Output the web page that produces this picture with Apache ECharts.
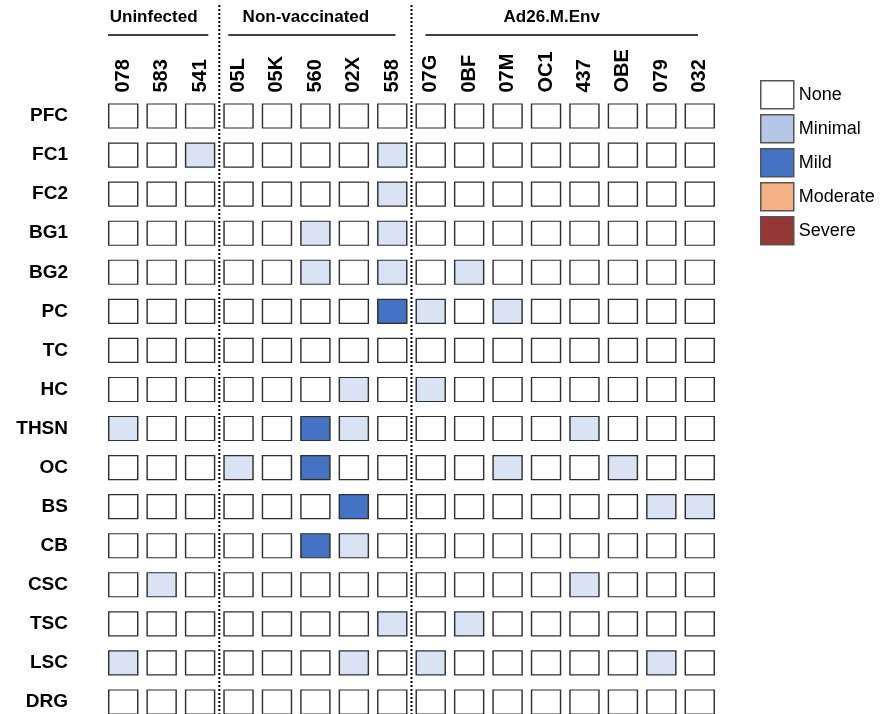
<!DOCTYPE html>
<html>
<head>
<meta charset="utf-8">
<script src="https://cdn.jsdelivr.net/npm/echarts@6/dist/echarts.min.js"></script>
<style>
  html, body { margin: 0; padding: 0; background: #fff; }
  #main { width: 892px; height: 714px; }
</style>
</head>
<body>
<div id="main"></div>
<script>
// animals (columns) and regions (rows)
const animals = ['078', '583', '541', '05L', '05K', '560', '02X', '558',
  '07G', '0BF', '07M', 'OC1', '437', 'OBE', '079', '032'];
const regions = ['PFC', 'FC1', 'FC2', 'BG1', 'BG2', 'PC', 'TC', 'HC',
  'THSN', 'OC', 'BS', 'CB', 'CSC', 'TSC', 'LSC', 'DRG'];
const levels = ['None', 'Minimal', 'Mild', 'Moderate', 'Severe'];
// groups: name, first column, last column
const groups = [
  ['Uninfected', 0, 2],
  ['Non-vaccinated', 3, 7],
  ['Ad26.M.Env', 8, 15]
];

// score per region, one value per animal (0 none, 1 minimal, 2 mild)
const scores = [
  [0, 0, 0, 0, 0, 0, 0, 0, 0, 0, 0, 0, 0, 0, 0, 0], // PFC
  [0, 0, 1, 0, 0, 0, 0, 1, 0, 0, 0, 0, 0, 0, 0, 0], // FC1
  [0, 0, 0, 0, 0, 0, 0, 1, 0, 0, 0, 0, 0, 0, 0, 0], // FC2
  [0, 0, 0, 0, 0, 1, 0, 1, 0, 0, 0, 0, 0, 0, 0, 0], // BG1
  [0, 0, 0, 0, 0, 1, 0, 1, 0, 1, 0, 0, 0, 0, 0, 0], // BG2
  [0, 0, 0, 0, 0, 0, 0, 2, 1, 0, 1, 0, 0, 0, 0, 0], // PC
  [0, 0, 0, 0, 0, 0, 0, 0, 0, 0, 0, 0, 0, 0, 0, 0], // TC
  [0, 0, 0, 0, 0, 0, 1, 0, 1, 0, 0, 0, 0, 0, 0, 0], // HC
  [1, 0, 0, 0, 0, 2, 1, 0, 0, 0, 0, 0, 1, 0, 0, 0], // THSN
  [0, 0, 0, 1, 0, 2, 0, 0, 0, 0, 1, 0, 0, 1, 0, 0], // OC
  [0, 0, 0, 0, 0, 0, 2, 0, 0, 0, 0, 0, 0, 0, 1, 1], // BS
  [0, 0, 0, 0, 0, 2, 1, 0, 0, 0, 0, 0, 0, 0, 0, 0], // CB
  [0, 1, 0, 0, 0, 0, 0, 0, 0, 0, 0, 0, 1, 0, 0, 0], // CSC
  [0, 0, 0, 0, 0, 0, 0, 1, 0, 1, 0, 0, 0, 0, 0, 0], // TSC
  [1, 0, 0, 0, 0, 0, 1, 0, 1, 0, 0, 0, 0, 0, 1, 0], // LSC
  [0, 0, 0, 0, 0, 0, 0, 0, 0, 0, 0, 0, 0, 0, 0, 0]  // DRG
];

const cellColors = ['#ffffff', '#dae3f3', '#4472c4', '#f4b183', '#953735'];
const legendColors = ['#ffffff', '#b4c7e7', '#4472c4', '#f4b183', '#953735'];
const font = '"Liberation Sans", Arial, sans-serif';

const chart = echarts.init(document.getElementById('main'));

const series = levels.map((name, lv) => {
  const data = [];
  scores.forEach((row, r) => {
    row.forEach((v, c) => {
      if (v === lv) data.push([c, r]);
    });
  });
  return {
    name: name,
    type: 'scatter',
    symbol: 'rect',
    symbolSize: [29, 24],
    data: data,
    silent: true,
    itemStyle: {
      color: cellColors[lv],
      borderColor: '#2e2e2e',
      borderWidth: 1.3,
      opacity: 1
    }
  };
});

const option = {
  animation: false,
  backgroundColor: '#fff',
  grid: { left: 104, top: 96.5, width: 615, height: 625, outerBoundsMode: 'none', containLabel: false },
  xAxis: {
    type: 'category',
    data: animals,
    position: 'top',
    axisLine: { show: false },
    axisTick: { show: false },
    splitLine: { show: false },
    axisLabel: {
      rotate: -90,
      margin: 4,
      color: '#000',
      fontWeight: 'bold',
      fontSize: 20,
      fontFamily: font
    }
  },
  yAxis: {
    type: 'category',
    data: regions,
    inverse: true,
    axisLine: { show: false },
    axisTick: { show: false },
    splitLine: { show: false },
    axisLabel: {
      margin: 36,
      color: '#000',
      fontWeight: 'bold',
      fontSize: 19,
      fontFamily: font
    }
  },
  legend: {
    orient: 'vertical',
    left: 760,
    top: 80,
    padding: 0,
    itemWidth: 33,
    itemHeight: 28,
    itemGap: 4.5,
    selectedMode: false,
    textStyle: { color: '#000', fontSize: 18, fontFamily: font, padding: [2, 0, 0, 0] },
    data: levels.map((name, i) => ({
      name: name,
      icon: 'rect',
      itemStyle: { color: legendColors[i], borderColor: '#555', borderWidth: 1.5 }
    }))
  },
  series: series
};

chart.setOption(option);

// separators, group titles and underlines placed from the axis scale
const half = 615 / animals.length / 2;
const colX = (i) => chart.convertToPixel({ xAxisIndex: 0 }, animals[i]);
const lineInset = [[4, 11], [9, 16], [14, 21]];
const titleShift = [-4.5, -6, -10];
const graphics = [];
groups.forEach((g, gi) => {
  const x0 = colX(g[1]) - half;
  const x1 = colX(g[2]) + half;
  const l0 = x0 + lineInset[gi][0];
  const l1 = x1 - lineInset[gi][1];
  graphics.push({
    type: 'line',
    silent: true,
    shape: { x1: l0, y1: 35, x2: l1, y2: 35 },
    style: { stroke: '#000', lineWidth: 1.5 }
  });
  graphics.push({
    type: 'text',
    silent: true,
    x: (l0 + l1) / 2 + titleShift[gi],
    y: 17,
    style: {
      text: g[0],
      align: 'center',
      verticalAlign: 'middle',
      fill: '#000',
      font: 'bold 17px ' + font
    }
  });
  if (gi > 0) {
    graphics.push({
      type: 'line',
      silent: true,
      shape: { x1: x0, y1: 5, x2: x0, y2: 714 },
      style: { stroke: '#000', lineWidth: 2, lineDash: [2, 2] }
    });
  }
});
chart.setOption({ graphic: graphics });
</script>
</body>
</html>
